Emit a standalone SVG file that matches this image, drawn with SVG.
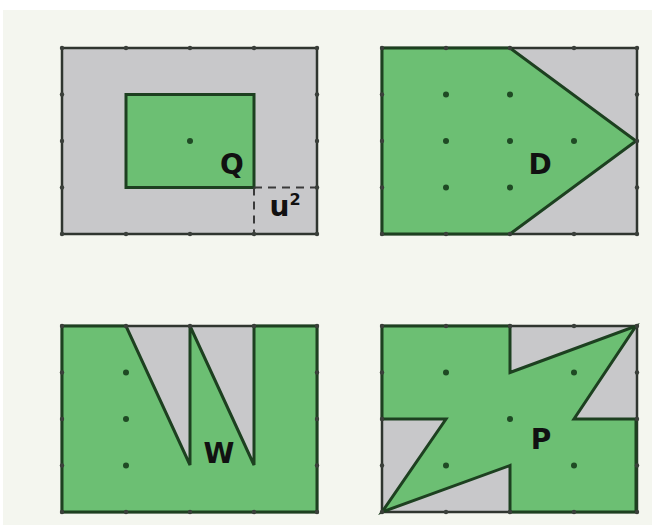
<svg xmlns="http://www.w3.org/2000/svg" width="652" height="525" viewBox="0 0 652 525">
<style>
.bg{fill:#c8c8ca;stroke:#2f352f;stroke-width:2.5}
.gr{fill:#6cbf73;stroke:#1d4020;stroke-width:3;stroke-linejoin:miter}
.dot{fill:#1f4a24}
.tick{fill:#3a3f3a}
.lbl{font-family:"DejaVu Sans","Liberation Sans",sans-serif;font-weight:bold;font-size:28px;fill:#111;text-anchor:middle}
.dash{stroke:#3a3a3a;stroke-width:2;stroke-dasharray:8,6;fill:none}
</style>
<defs>
<g id="ticks">
<circle class="tick" cx="0" cy="0" r="2.2"/><circle class="tick" cx="64" cy="0" r="2.2"/><circle class="tick" cx="128" cy="0" r="2.2"/><circle class="tick" cx="192" cy="0" r="2.2"/><circle class="tick" cx="255" cy="0" r="2.2"/>
<circle class="tick" cx="0" cy="186" r="2.2"/><circle class="tick" cx="64" cy="186" r="2.2"/><circle class="tick" cx="128" cy="186" r="2.2"/><circle class="tick" cx="192" cy="186" r="2.2"/><circle class="tick" cx="255" cy="186" r="2.2"/>
<circle class="tick" cx="0" cy="46.5" r="2.2"/><circle class="tick" cx="0" cy="93" r="2.2"/><circle class="tick" cx="0" cy="139.5" r="2.2"/>
<circle class="tick" cx="255" cy="46.5" r="2.2"/><circle class="tick" cx="255" cy="93" r="2.2"/><circle class="tick" cx="255" cy="139.5" r="2.2"/>
</g>
</defs>
<rect x="0" y="0" width="652" height="525" fill="#ffffff"/>
<rect x="3" y="10" width="649" height="515" fill="#f4f6ef"/>

<g id="Q">
<rect class="bg" x="62" y="48" width="255" height="186"/>
<rect class="gr" x="126" y="94.5" width="128" height="93"/>
<path class="dash" d="M254 187.5 H317 M254 187.5 V234"/>
<use href="#ticks" x="62" y="48"/>
<circle class="dot" cx="190" cy="141" r="3"/>
<text class="lbl" x="232" y="174">Q</text>
<text class="lbl" x="285" y="216">u<tspan dy="-11" style="font-size:16px">2</tspan></text>
</g>

<g id="D">
<rect class="bg" x="382" y="48" width="255" height="186"/>
<polygon class="gr" points="382,48 510,48 636,141 510,234 382,234"/>
<use href="#ticks" x="382" y="48"/>
<circle class="dot" cx="446" cy="94.5" r="3"/><circle class="dot" cx="510" cy="94.5" r="3"/>
<circle class="dot" cx="446" cy="141" r="3"/><circle class="dot" cx="510" cy="141" r="3"/><circle class="dot" cx="574" cy="141" r="3"/>
<circle class="dot" cx="446" cy="187.5" r="3"/><circle class="dot" cx="510" cy="187.5" r="3"/>
<text class="lbl" x="540" y="174">D</text>
</g>

<g id="W">
<rect class="bg" x="62" y="326" width="255" height="186"/>
<polygon class="gr" points="62,326 126,326 190,465 190,326 254,465 254,326 317,326 317,512 62,512"/>
<use href="#ticks" x="62" y="326"/>
<circle class="dot" cx="126" cy="372.5" r="3"/><circle class="dot" cx="126" cy="419" r="3"/><circle class="dot" cx="126" cy="465.5" r="3"/>
<text class="lbl" x="219" y="463">W</text>
</g>

<g id="P">
<rect class="bg" x="382" y="326" width="255" height="186"/>
<polygon class="gr" points="382,326 510,326 510,372.5 636,326 574,419 636,419 636,512 510,512 510,465.5 382,512 446,419 382,419"/>
<use href="#ticks" x="382" y="326"/>
<circle class="dot" cx="446" cy="372.5" r="3"/><circle class="dot" cx="574" cy="372.5" r="3"/>
<circle class="dot" cx="510" cy="419" r="3"/>
<circle class="dot" cx="446" cy="465.5" r="3"/><circle class="dot" cx="574" cy="465.5" r="3"/>
<text class="lbl" x="541" y="449">P</text>
</g>
<g id="connectors"/>
</svg>
